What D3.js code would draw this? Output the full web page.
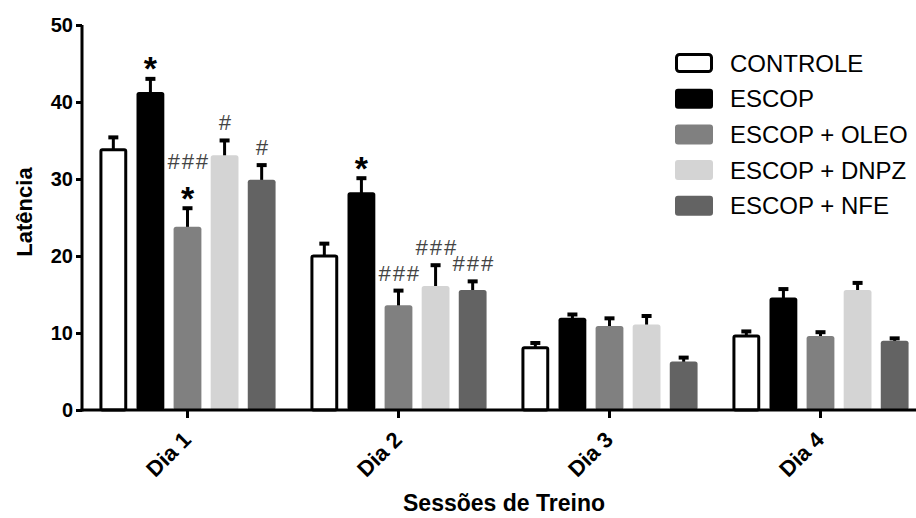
<!DOCTYPE html>
<html>
<head>
<meta charset="utf-8">
<script src="https://cdn.jsdelivr.net/npm/d3@7"></script>
<style>
html,body{margin:0;padding:0;background:#fff;}
svg{display:block;}
text{font-family:"Liberation Sans",Arial,sans-serif;}
</style>
</head>
<body>
<svg id="chart" width="916" height="518"></svg>
<script>
// ---- data ----
const days = ["Dia 1", "Dia 2", "Dia 3", "Dia 4"];
const groups = ["CONTROLE", "ESCOP", "ESCOP + OLEO", "ESCOP + DNPZ", "ESCOP + NFE"];
const controle    = [33.8, 20.0, 8.1, 9.6];
const controleErr = [1.8, 1.8, 0.8, 0.8];
const escop       = [41.1, 28.1, 11.8, 14.4];
const escopErr    = [2.1, 2.2, 0.8, 1.5];
const oleo        = [23.6, 13.4, 10.7, 9.4];
const oleoErr     = [2.8, 2.3, 1.4, 0.9];
const dnpz        = [32.9, 15.9, 10.9, 15.4];
const dnpzErr     = [2.3, 3.1, 1.5, 1.3];
const nfe         = [29.7, 15.4, 6.1, 8.8];
const nfeErr      = [2.3, 1.5, 0.9, 0.7];
const yTicks = [0, 10, 20, 30, 40, 50];
const annotations = [
  {day: "Dia 1", group: "ESCOP", text: "*"},
  {day: "Dia 1", group: "ESCOP + OLEO", text: "*"},
  {day: "Dia 1", group: "ESCOP + OLEO", text: "###"},
  {day: "Dia 1", group: "ESCOP + DNPZ", text: "#"},
  {day: "Dia 1", group: "ESCOP + NFE", text: "#"},
  {day: "Dia 2", group: "ESCOP", text: "*"},
  {day: "Dia 2", group: "ESCOP + OLEO", text: "###"},
  {day: "Dia 2", group: "ESCOP + DNPZ", text: "###"},
  {day: "Dia 2", group: "ESCOP + NFE", text: "###"}
];

const seriesVals = [controle, escop, oleo, dnpz, nfe];
const seriesErr = [controleErr, escopErr, oleoErr, dnpzErr, nfeErr];
const colors = ["#ffffff", "#000000", "#808080", "#d4d4d4", "#636363"];

const rows = [];
days.forEach((d, i) => groups.forEach((g, j) => {
  rows.push({day: d, group: g, gi: j, value: seriesVals[j][i], err: seriesErr[j][i]});
}));

const svg = d3.select("#chart");
const x0 = d3.scaleBand().domain(days).range([82, 926]).paddingInner(0).paddingOuter(0);
const x1 = d3.scaleBand().domain(groups).range([0, x0.bandwidth()]).paddingInner(0.25).paddingOuter(0.47);
const y = d3.scaleLinear().domain([0, 50]).range([410, 25]);

// bars
const bars = svg.append("g");
rows.forEach(r => {
  const bx = x0(r.day) + x1(r.group);
  const bw = x1.bandwidth();
  const top = y(r.value);
  const errTop = y(r.value + r.err);
  const cx = bx + bw / 2;
  bars.append("line").attr("x1", cx).attr("x2", cx).attr("y1", top).attr("y2", errTop + 1)
    .attr("stroke", "#000").attr("stroke-width", 3);
  bars.append("line").attr("x1", cx - 5).attr("x2", cx + 5).attr("y1", errTop + 1.5).attr("y2", errTop + 1.5)
    .attr("stroke", "#000").attr("stroke-width", 4);
  if (r.gi === 0) {
    bars.append("rect").attr("x", bx + 1.5).attr("y", top).attr("width", bw - 3).attr("height", y(0) - top)
      .attr("fill", "#fff").attr("stroke", "#000").attr("stroke-width", 3).attr("rx", 1.5);
  } else {
    bars.append("rect").attr("x", bx).attr("y", top - 1.5).attr("width", bw).attr("height", y(0) - top + 1.5)
      .attr("fill", colors[r.gi]).attr("rx", 2.5);
  }
});

// annotations
const levels = {};
annotations.forEach(a => {
  const r = rows.find(q => q.day === a.day && q.group === a.group);
  const key = a.day + "|" + a.group;
  const lvl = levels[key] || 0;
  levels[key] = lvl + 1;
  const cx = x0(a.day) + x1(a.group) + x1.bandwidth() / 2;
  const center = y(r.value + r.err) - 16 - lvl * 29;
  if (a.text === "*") {
    svg.append("text").attr("x", cx).attr("y", center + 19).attr("text-anchor", "middle")
      .attr("font-size", 34).attr("font-weight", "bold").attr("fill", "#000").text(a.text);
  } else {
    svg.append("text").attr("x", cx + 1).attr("y", center + 7.5).attr("text-anchor", "middle")
      .attr("font-family", "'Liberation Serif','DejaVu Serif',serif").attr("font-style", "italic")
      .attr("font-size", 22).attr("letter-spacing", 2).attr("fill", "#444").text(a.text);
  }
});

// y axis
const yAxis = svg.append("g").attr("transform", "translate(82,0)")
  .call(d3.axisLeft(y).tickValues(yTicks).tickSize(6).tickPadding(3).tickFormat(d3.format("d")));
yAxis.select(".domain").attr("stroke", "#000").attr("stroke-width", 3).attr("d", "M0,25V411.5");
yAxis.selectAll(".tick line").attr("stroke", "#000").attr("stroke-width", 3);
yAxis.selectAll(".tick text").attr("font-size", 20).attr("font-weight", "bold").attr("fill", "#000")
  .attr("font-family", "'Liberation Sans',Arial,sans-serif");

// x axis
const xAxis = svg.append("g").attr("transform", "translate(0,410)")
  .call(d3.axisBottom(x0).tickSize(8).tickSizeOuter(0));
xAxis.select(".domain").attr("stroke", "#000").attr("stroke-width", 3).attr("d", "M80.5,0H916");
xAxis.selectAll(".tick line").attr("stroke", "#000").attr("stroke-width", 3);
xAxis.selectAll(".tick text").attr("font-size", 22).attr("font-weight", "bold").attr("fill", "#000")
  .attr("font-family", "'Liberation Sans',Arial,sans-serif")
  .attr("text-anchor", "end").attr("dy", null).attr("y", 0)
  .attr("transform", "translate(5,31) rotate(-45)");

// axis titles
svg.append("text").attr("transform", "translate(32,212) rotate(-90)").attr("text-anchor", "middle")
  .attr("font-size", 22).attr("font-weight", "bold").attr("fill", "#000").text("Latência");
svg.append("text").attr("x", 504).attr("y", 511).attr("text-anchor", "middle")
  .attr("font-size", 23).attr("font-weight", "bold").attr("fill", "#000").text("Sessões de Treino");

// legend
const legend = svg.append("g");
groups.forEach((g, j) => {
  const cy = 63 + j * 35.7;
  if (j === 0) {
    legend.append("rect").attr("x", 676.5).attr("y", cy - 8.5).attr("width", 35).attr("height", 17)
      .attr("rx", 3).attr("fill", "#fff").attr("stroke", "#000").attr("stroke-width", 3);
  } else {
    legend.append("rect").attr("x", 675).attr("y", cy - 10).attr("width", 38).attr("height", 20)
      .attr("rx", 3).attr("fill", colors[j]);
  }
  legend.append("text").attr("x", 730).attr("y", cy + 8.6).attr("font-size", 24).attr("fill", "#000").text(g);
});
</script>
</body>
</html>
